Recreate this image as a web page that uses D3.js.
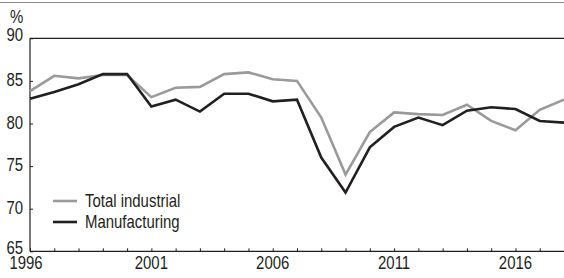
<!DOCTYPE html>
<html>
<head>
<meta charset="utf-8">
<script src="https://cdn.jsdelivr.net/npm/d3@7"></script>
<style>
  body { margin: 0; background: #fff; }
  svg { display: block; }
  text { font-family: "Liberation Sans Narrow", "Arial Narrow", "Liberation Sans", sans-serif; font-size: 18px; fill: #231f20; }
</style>
</head>
<body>
<script>
// data
var years = d3.range(1996, 2019);
var totalIndustrial = [83.8, 85.6, 85.3, 85.7, 85.7, 83.1, 84.2, 84.3, 85.8, 86.0, 85.2, 85.0, 80.7, 74.0, 79.0, 81.3, 81.1, 81.0, 82.2, 80.3, 79.2, 81.6, 82.8];
var manufacturing = [82.9, 83.7, 84.6, 85.8, 85.8, 82.0, 82.8, 81.4, 83.5, 83.5, 82.6, 82.8, 76.0, 71.9, 77.2, 79.6, 80.7, 79.8, 81.5, 81.9, 81.7, 80.3, 80.1];
var seriesNames = ["Total industrial", "Manufacturing"];
var seriesColors = ["#9a9a9a", "#231f20"];
var yTicks = [65, 70, 75, 80, 85, 90];
var xLabels = [1996, 2001, 2006, 2011, 2016];

var width = 564, height = 278;
var plotLeft = 30, plotRight = 564, plotTop = 38.3, plotBottom = 251.3;
var squeeze = 0.83; //窄体字

var svg = d3.select("body").append("svg").attr("width", width).attr("height", height);

var x = d3.scaleLinear().domain([1996, 2018]).range([plotLeft, plotRight]);
var y = d3.scaleLinear().domain([65, 90]).range([plotBottom, plotTop]);

function narrowText(px, py, str, anchor) {
    return svg.append("text")
        .attr("transform", "translate(" + px + "," + py + ") scale(" + squeeze + ",1)")
        .attr("text-anchor", anchor || "start")
        .text(str);
}

//顶部灰线
svg.append("line").attr("x1", 0).attr("x2", width).attr("y1", 2.5).attr("y2", 2.5)
    .style("stroke", "#8a8a8a").style("stroke-width", 1);

//坐标框
svg.append("line").attr("x1", plotLeft).attr("x2", plotRight).attr("y1", plotTop).attr("y2", plotTop)
    .style("stroke", "#231f20").style("stroke-width", 1.2);

//y轴
var yAxis = svg.append("g").attr("transform", "translate(" + plotLeft + ",0)")
    .call(d3.axisRight(y).tickValues(yTicks).tickSize(3).tickFormat(""));
yAxis.select(".domain").remove();
yAxis.selectAll(".tick line").style("stroke", "#231f20");
svg.append("line").attr("x1", plotLeft).attr("x2", plotLeft).attr("y1", plotTop).attr("y2", plotBottom)
    .style("stroke", "#231f20").style("stroke-width", 1.2);
yTicks.forEach(function (d, i) {
    var off = (i == 0 || i == yTicks.length - 1) ? 3 : 5;
    narrowText(23, y(d) + off, d, "end");
});
narrowText(10, 23, "%");

//x轴
var xAxis = svg.append("g").attr("transform", "translate(0," + plotBottom + ")")
    .call(d3.axisTop(x).tickValues(years).tickSize(3).tickFormat(""));
xAxis.select(".domain").remove();
xAxis.selectAll(".tick line").style("stroke", "#231f20");
svg.append("line").attr("x1", plotLeft).attr("x2", plotRight).attr("y1", plotBottom).attr("y2", plotBottom)
    .style("stroke", "#231f20").style("stroke-width", 1.2);
xLabels.forEach(function (d, i) {
    narrowText(x(d) - (i == 0 ? 4 : 0), 268.5, d, "middle");
});

//折线
var line = d3.line().x(function (d, i) { return x(years[i]); }).y(function (d) { return y(d); });
[totalIndustrial, manufacturing].forEach(function (s, k) {
    svg.append("path").datum(s).attr("d", line)
        .style("fill", "none").style("stroke", seriesColors[k])
        .style("stroke-width", 2.6).style("stroke-linejoin", "miter");
});

//图例
seriesNames.forEach(function (n, k) {
    var ly = 201 + k * 21;
    svg.append("line").attr("x1", 53).attr("x2", 77).attr("y1", ly).attr("y2", ly)
        .style("stroke", seriesColors[k]).style("stroke-width", 2.6);
    narrowText(85, ly + 6, n);
});
</script>
</body>
</html>
